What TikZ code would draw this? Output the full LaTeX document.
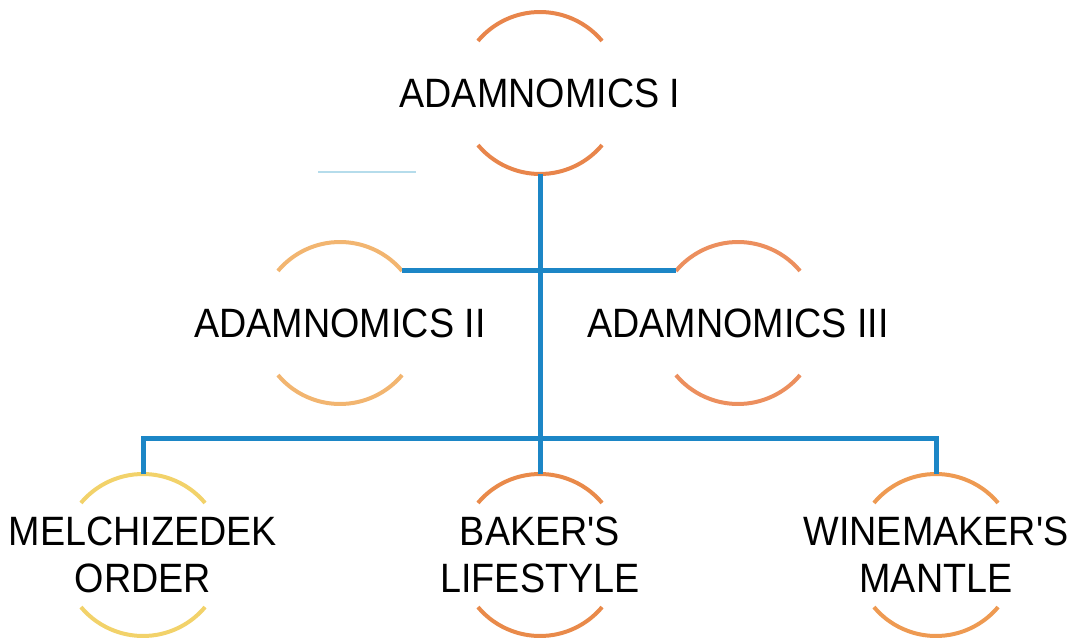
\documentclass[tikz,border=0pt]{standalone}
\usepackage{fontspec}
\setmainfont[FakeStretch=0.92, Ligatures=TeXOff]{Liberation Sans}
\usetikzlibrary{positioning}
\definecolor{linkblue}{HTML}{1C86C6}
\definecolor{faintblue}{HTML}{B5DCEB}
\definecolor{rimA}{HTML}{E8854B}
\definecolor{rimB}{HTML}{F2B570}
\definecolor{rimC}{HTML}{EC8F5E}
\definecolor{rimD}{HTML}{F2D26A}
\definecolor{rimE}{HTML}{E98A4A}
\definecolor{rimF}{HTML}{EE9A52}

\begin{document}
\begin{tikzpicture}[x=1pt, y=1pt,
        ring/.style={circle, minimum size=162pt, inner sep=0pt, outer sep=0pt, on grid},
        lbl/.style={align=center, inner sep=0pt, font=\fontsize{41}{47}\selectfont},
        rim/.style={line width=4pt},
        link/.style={draw=linkblue, line width=5pt}]
        \useasboundingbox (0,0) rectangle (1078,641);

        \node[ring] (adam1) at (540,548) {};
        \node[ring, below left = 230pt and 200pt of adam1] (adam2) {};
        \node[ring, below right = 230pt and 198pt of adam1] (adam3) {};
        \node[ring, below = 462pt of adam1] (baker) {};
        \node[ring, left = 397pt of baker] (melch) {};
        \node[ring, right = 396pt of baker] (wine) {};

        \node[lbl] (adam1T) at (adam1) {ADAMNOMICS I};
        \node[lbl] (adam2T) at (adam2) {ADAMNOMICS II};
        \node[lbl] (adam3T) at (adam3) {ADAMNOMICS III};
        \node[lbl] (melchT) at (melch) {MELCHIZEDEK\\ORDER};
        \node[lbl] (bakerT) at (baker) {BAKER'S\\LIFESTYLE};
        \node[lbl] (wineT) at (wine) {WINEMAKER'S\\MANTLE};

        % open rings
        \foreach \n/\c in {adam1/rimA, adam2/rimB, adam3/rimC, melch/rimD, baker/rimE, wine/rimF} {
            \draw[rim, \c] (\n.40) arc[start angle=40, end angle=140, radius=81pt];
            \draw[rim, \c] (\n.220) arc[start angle=220, end angle=320, radius=81pt];
        }

        \draw[link] (adam1.south) -- (baker.north);
        \draw[link] (adam2.40) -- (adam3.140);
        \draw[link] (melch.north) -- ++(0,36) -| (wine.north);

        \draw[faintblue, line width=2.5pt] (318,469) -- (416,469);

    \end{tikzpicture}
\end{document}
